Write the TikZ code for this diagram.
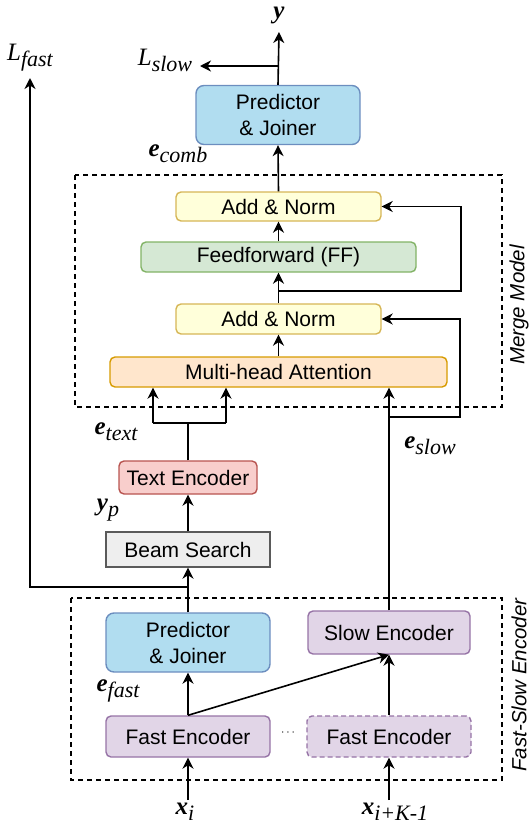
\documentclass[tikz,border=0pt]{standalone}
\usepackage{fontspec}
\setsansfont{Liberation Sans}
\newfontfamily\tms{Liberation Serif}
\usetikzlibrary{arrows.meta,calc}
\definecolor{bluef}{HTML}{B1DDF0}\definecolor{blued}{HTML}{6C8EBF}
\definecolor{yelf}{HTML}{FFFFDA}\definecolor{yeld}{HTML}{D6B656}
\definecolor{grnf}{HTML}{D5E8D4}\definecolor{grnd}{HTML}{82B366}
\definecolor{orf}{HTML}{FFE6CC}\definecolor{ord}{HTML}{D79B00}
\definecolor{redf}{HTML}{F8CECC}\definecolor{redd}{HTML}{B85450}
\definecolor{gryf}{HTML}{EEEEEE}\definecolor{gryd}{HTML}{5A5A5A}
\definecolor{purf}{HTML}{E1D5E7}\definecolor{purd}{HTML}{9673A6}
\newcommand\lbl[2]{#1\raisebox{-6pt}{\fontsize{22}{22}\selectfont\mdseries\itshape #2}}
\newcommand\bi[1]{\textbf{\textit{#1}}}
\begin{document}
\begin{tikzpicture}[x=1pt,y=-1pt,
  box/.style={draw, line width=1.4pt, rounded corners=5pt, inner sep=0pt,
    font=\sffamily\fontsize{21}{26}\selectfont, align=center},
  blu/.style={box, fill=bluef, draw=blued, rounded corners=8pt},
  yel/.style={box, fill=yelf, draw=yeld},
  grn/.style={box, fill=grnf, draw=grnd},
  org/.style={box, fill=orf, draw=ord},
  rdb/.style={box, fill=redf, draw=redd},
  gry/.style={box, fill=gryf, draw=gryd, rounded corners=0pt},
  pur/.style={box, fill=purf, draw=purd},
  arr/.style={line width=1.6pt, -{Stealth[length=11pt,width=11pt,inset=3.5pt]}},
  ln/.style={line width=1.6pt},
  grp/.style={draw, line width=1.3pt, dash pattern=on 5pt off 4pt},
  lab/.style={font=\tms\fontsize{25}{25}\selectfont, inner sep=0pt},
  side/.style={font=\sffamily\itshape\fontsize{20.5}{24}\selectfont, inner sep=0pt, rotate=90}
]
\useasboundingbox (0,0) rectangle (532,830);
% group boxes
\draw[grp] (75,175) rectangle (502,407);
\draw[grp] (71,598) rectangle (502,780);
\node[side] (mm) at (519,305) {Merge Model};
\node[side] (fsl) at (519,685) {Fast-Slow Encoder};
% nodes
\node[blu, minimum width=164pt, minimum height=59pt] (pjt) at (278,115) {Predictor\\\& Joiner};
\node[yel, minimum width=205pt, minimum height=29pt] (an2) at (278.5,206.5) {Add \& Norm};
\node[grn, minimum width=275pt, minimum height=30pt] (ff) at (278.5,257) {Feedforward (FF)};
\node[yel, minimum width=205pt, minimum height=30pt] (an1) at (278.5,319) {Add \& Norm};
\node[org, minimum width=337pt, minimum height=30pt] (mha) at (278.5,372) {Multi-head Attention};
\node[rdb, minimum width=138pt, minimum height=33pt] (te) at (188,477.5) {Text Encoder};
\node[gry, minimum width=164pt, minimum height=35pt] (bs) at (188,549.5) {Beam Search};
\node[blu, minimum width=164pt, minimum height=59pt] (pjf) at (188,642.5) {Predictor\\\& Joiner};
\node[pur, minimum width=162pt, minimum height=43pt] (se) at (389,632.5) {Slow Encoder};
\node[pur, minimum width=164pt, minimum height=41pt] (fe1) at (188,736.5) {Fast Encoder};
\node[pur, minimum width=164pt, minimum height=41pt, dash pattern=on 5pt off 3pt] (fe2) at (389,736.5) {Fast Encoder};
\node[inner sep=0pt, font=\fontsize{12}{12}\selectfont] (dots) at (288,733) {$\cdots$};
% labels
\node[lab] (ylab) at (279,15) {\bi{y}};
\node[lab] (lfast) at (30,58) {\lbl{\textit{L}}{fast}};
\node[lab] (lslow) at (165,60) {\lbl{\textit{L}}{slow}};
\node[lab] (ecomb) at (178,154) {\lbl{\bi{e}}{comb}};
\node[lab] (etext) at (116,432) {\lbl{\bi{e}}{text}};
\node[lab] (yp) at (108,510) {\lbl{\bi{y}}{p}};
\node[lab] (eslow) at (430,446) {\lbl{\bi{e}}{slow}};
\node[lab] (efast) at (118,691) {\lbl{\bi{e}}{fast}};
\node[lab] (xi) at (185,812) {\lbl{\bi{x}}{i}};
\node[lab] (xik) at (395,812) {\lbl{\bi{x}}{i+K-1}};
% coordinates
\coordinate (ytip) at (279,32);
\coordinate (jslow) at (279,66);
\coordinate (lslowtip) at (200,66);
\coordinate (lfasttip) at (30,78);
\coordinate (jfast) at (188,587);
\coordinate (tj) at (188,423);
\coordinate (m1) at (153,423);
\coordinate (m2) at (226,423);
\coordinate (rs) at (389,417);
\coordinate (r1) at (278.5,291);
\coordinate (xin) at (188,800);
\coordinate (xkin) at (389,800);
% connectors
\draw[arr] (xin) -- (fe1.south);
\draw[arr] (xkin) -- (fe2.south);
\draw[arr] (fe1.north) -- (pjf.south);
\draw[arr] (fe1.north) -- (se.south);
\draw[arr] (fe2.north) -- (se.south);
\draw[arr] (pjf.north) -- (bs.south);
\draw[arr] (jfast) -| (lfasttip);
\draw[arr] (bs.north) -- (te.south);
\draw[ln] (te.north) -- (tj);
\draw[ln] (m1) -- (m2);
\draw[arr] (m1) -- (m1 |- mha.south);
\draw[arr] (m2) -- (m2 |- mha.south);
\draw[arr] (se.north) -- (se.north |- mha.south);
\draw[arr] (rs) -| ($(an1.east)+(78,0)$) -- (an1.east);
\draw[arr] (mha.north) -- (an1.south);
\draw[arr] (an1.north) -- (ff.south);
\draw[arr] (r1) -| ($(an2.east)+(79,0)$) -- (an2.east);
\draw[arr] (ff.north) -- (an2.south);
\draw[arr] (an2.north) -- (pjt.south);
\draw[arr] (pjt.north) -- (ytip);
\draw[arr] (jslow) -- (lslowtip);
\end{tikzpicture}
\end{document}
